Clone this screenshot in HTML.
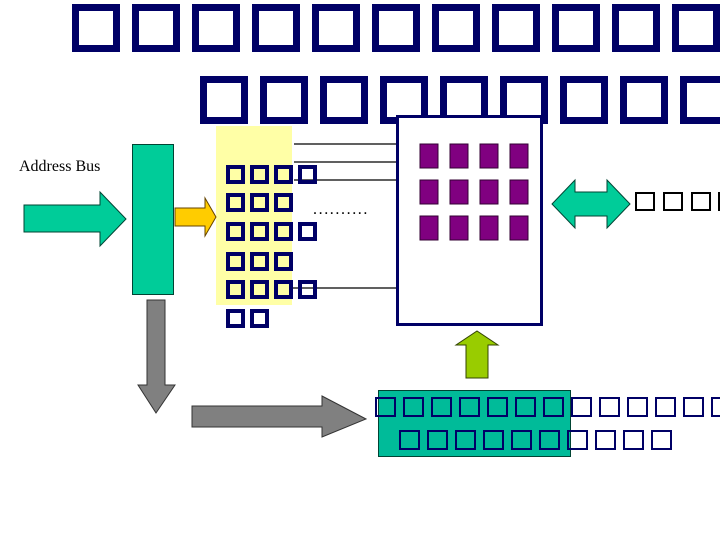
<!DOCTYPE html>
<html><head><meta charset="utf-8"><style>
html,body{margin:0;padding:0;background:#fff;width:720px;height:540px;overflow:hidden}
svg{display:block}
</style></head><body>
<svg width="720" height="540" viewBox="0 0 720 540" xmlns="http://www.w3.org/2000/svg">
<g fill="none" stroke="#000066" stroke-width="7">
<rect x="75.5" y="7.5" width="41" height="41"/><rect x="135.5" y="7.5" width="41" height="41"/><rect x="195.5" y="7.5" width="41" height="41"/><rect x="255.5" y="7.5" width="41" height="41"/><rect x="315.5" y="7.5" width="41" height="41"/><rect x="375.5" y="7.5" width="41" height="41"/><rect x="435.5" y="7.5" width="41" height="41"/><rect x="495.5" y="7.5" width="41" height="41"/><rect x="555.5" y="7.5" width="41" height="41"/><rect x="615.5" y="7.5" width="41" height="41"/><rect x="675.5" y="7.5" width="41" height="41"/>
<rect x="203.5" y="79.5" width="41" height="41"/><rect x="263.5" y="79.5" width="41" height="41"/><rect x="323.5" y="79.5" width="41" height="41"/><rect x="383.5" y="79.5" width="41" height="41"/><rect x="443.5" y="79.5" width="41" height="41"/><rect x="503.5" y="79.5" width="41" height="41"/><rect x="563.5" y="79.5" width="41" height="41"/><rect x="623.5" y="79.5" width="41" height="41"/><rect x="683.5" y="79.5" width="41" height="41"/>
</g>
<rect x="216" y="126" width="76" height="179" fill="#ffffa6"/>
<rect x="397.5" y="116.5" width="144" height="208" fill="#fff" stroke="#000066" stroke-width="3"/>
<g stroke="#000" stroke-width="1.2">
<line x1="294" y1="144" x2="396" y2="144"/><line x1="294" y1="162" x2="396" y2="162"/><line x1="294" y1="180" x2="396" y2="180"/><line x1="289" y1="288" x2="396" y2="288"/>
</g>
<text x="313" y="214" font-family="Liberation Serif, serif" font-size="16" fill="#000" letter-spacing="1.6">..........</text>
<g fill="#800080" stroke="#330033" stroke-width="1">
<rect x="420" y="144" width="18" height="24"/><rect x="450" y="144" width="18" height="24"/><rect x="480" y="144" width="18" height="24"/><rect x="510" y="144" width="18" height="24"/>
<rect x="420" y="180" width="18" height="24"/><rect x="450" y="180" width="18" height="24"/><rect x="480" y="180" width="18" height="24"/><rect x="510" y="180" width="18" height="24"/>
<rect x="420" y="216" width="18" height="24"/><rect x="450" y="216" width="18" height="24"/><rect x="480" y="216" width="18" height="24"/><rect x="510" y="216" width="18" height="24"/>
</g>
<g fill="none" stroke="#000066" stroke-width="4">
<rect x="228" y="167" width="15" height="15"/><rect x="252" y="167" width="15" height="15"/><rect x="276" y="167" width="15" height="15"/><rect x="300" y="167" width="15" height="15"/>
<rect x="228" y="195" width="15" height="15"/><rect x="252" y="195" width="15" height="15"/><rect x="276" y="195" width="15" height="15"/>
<rect x="228" y="224" width="15" height="15"/><rect x="252" y="224" width="15" height="15"/><rect x="276" y="224" width="15" height="15"/><rect x="300" y="224" width="15" height="15"/>
<rect x="228" y="254" width="15" height="15"/><rect x="252" y="254" width="15" height="15"/><rect x="276" y="254" width="15" height="15"/>
<rect x="228" y="282" width="15" height="15"/><rect x="252" y="282" width="15" height="15"/><rect x="276" y="282" width="15" height="15"/><rect x="300" y="282" width="15" height="15"/>
<rect x="228" y="311" width="15" height="15"/><rect x="252" y="311" width="15" height="15"/>
</g>
<text x="19" y="171" font-family="Liberation Serif, serif" font-size="16" fill="#000">Address Bus</text>
<rect x="132.5" y="144.5" width="41" height="150" fill="#00cc99" stroke="#004433" stroke-width="1"/>
<polygon points="24,205 100,205 100,192 126,219 100,246 100,232 24,232" fill="#00cc99" stroke="#004433" stroke-width="1"/>
<polygon points="175,208 205,208 205,198 216,217 205,236 205,226 175,226" fill="#ffcc00" stroke="#664400" stroke-width="1"/>
<polygon points="147,300 165,300 165,385 175,385 156,413 138,385 147,385" fill="#808080" stroke="#333" stroke-width="1"/>
<polygon points="192,406 322,406 322,396 366,419 322,437 322,427 192,427" fill="#808080" stroke="#333" stroke-width="1"/>
<polygon points="575,180 575,192 607,192 607,180 630,204 607,228 607,216 575,216 575,228 552,204" fill="#00cc99" stroke="#004433" stroke-width="1"/>
<g fill="none" stroke="#000" stroke-width="2">
<rect x="636" y="193" width="18" height="17"/><rect x="664" y="193" width="18" height="17"/><rect x="692" y="193" width="18" height="17"/><rect x="719" y="193" width="18" height="17"/>
</g>
<polygon points="466,378 488,378 488,345 498,345 477,331 456,345 466,345" fill="#99cc00" stroke="#334400" stroke-width="1"/>
<rect x="378.5" y="390.5" width="192" height="66" fill="#00bb99" stroke="#004433" stroke-width="1"/>
<g fill="none" stroke="#000066" stroke-width="2">
<rect x="376" y="398" width="19" height="18"/><rect x="404" y="398" width="19" height="18"/><rect x="432" y="398" width="19" height="18"/><rect x="460" y="398" width="19" height="18"/><rect x="488" y="398" width="19" height="18"/><rect x="516" y="398" width="19" height="18"/><rect x="544" y="398" width="19" height="18"/><rect x="572" y="398" width="19" height="18"/><rect x="600" y="398" width="19" height="18"/><rect x="628" y="398" width="19" height="18"/><rect x="656" y="398" width="19" height="18"/><rect x="684" y="398" width="19" height="18"/><rect x="712" y="398" width="19" height="18"/>
<rect x="400" y="431" width="19" height="18"/><rect x="428" y="431" width="19" height="18"/><rect x="456" y="431" width="19" height="18"/><rect x="484" y="431" width="19" height="18"/><rect x="512" y="431" width="19" height="18"/><rect x="540" y="431" width="19" height="18"/><rect x="568" y="431" width="19" height="18"/><rect x="596" y="431" width="19" height="18"/><rect x="624" y="431" width="19" height="18"/><rect x="652" y="431" width="19" height="18"/>
</g>
</svg>
</body></html>
